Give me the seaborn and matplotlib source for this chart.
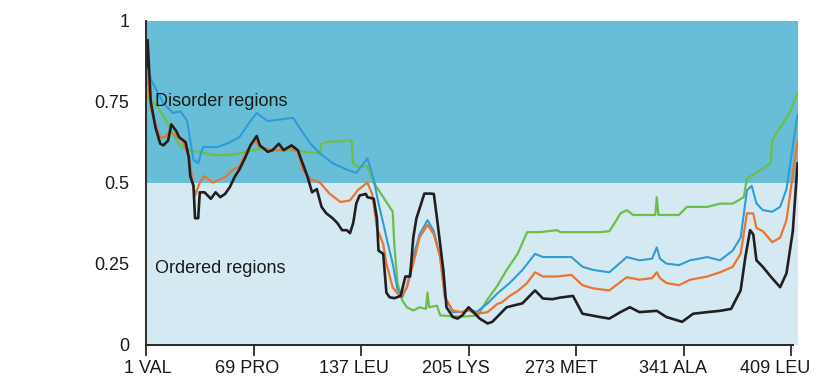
import numpy as np
import pandas as pd
import matplotlib
matplotlib.use("Agg")
import matplotlib.pyplot as plt
import matplotlib.transforms as mtransforms
import seaborn as sns

# ---- data -------------------------------------------------------------
tick_pos = [1, 69, 137, 205, 273, 341, 409]
tick_labels = ["1 VAL", "69 PRO", "137 LEU", "205 LYS", "273 MET", "341 ALA", "409 LEU"]
ytick_pos = [0, 0.25, 0.5, 0.75, 1]
ytick_labels = ["0", "0.25", "0.5", "0.75", "1"]

black_res = [1, 2, 4, 7, 10, 12, 15, 17, 20, 22, 26, 28, 29, 31, 32, 34, 35, 38, 42, 45,
             48, 51, 54, 57, 60, 64, 67, 71, 73, 78, 81, 85, 88, 93, 97, 100, 103, 106, 109, 112,
             115, 119, 122, 125, 128, 130, 132, 134, 136, 140, 141, 145, 147, 148, 151, 153, 155, 158, 162, 165,
             168, 170, 172, 174, 177, 181, 183, 185, 187, 189, 191, 195, 198, 201, 205, 208, 212, 217, 220, 225,
             229, 233, 239, 247, 252, 258, 263, 271, 277, 288, 294, 301, 307, 313, 324, 330, 340, 347, 356, 364,
             371, 377, 380, 383, 385, 387, 391, 396, 402, 406, 410, 413]
black_val = [0.85, 0.94, 0.75, 0.67, 0.62, 0.615, 0.63, 0.68, 0.66, 0.64, 0.625, 0.58, 0.52, 0.49, 0.39, 0.39, 0.47, 0.47, 0.45, 0.47,
             0.455, 0.465, 0.486, 0.517, 0.54, 0.58, 0.615, 0.644, 0.615, 0.595, 0.60, 0.62, 0.60, 0.615, 0.60, 0.56, 0.52, 0.47, 0.48, 0.425,
             0.405, 0.39, 0.375, 0.353, 0.353, 0.344, 0.375, 0.436, 0.46, 0.465, 0.455, 0.45, 0.39, 0.29, 0.28, 0.16, 0.146, 0.143, 0.15, 0.21,
             0.21, 0.33, 0.39, 0.42, 0.466, 0.466, 0.465, 0.39, 0.31, 0.23, 0.115, 0.085, 0.08, 0.09, 0.115, 0.10, 0.08, 0.065, 0.07, 0.095,
             0.115, 0.12, 0.127, 0.167, 0.142, 0.14, 0.145, 0.15, 0.095, 0.085, 0.08, 0.10, 0.115, 0.10, 0.104, 0.085, 0.07, 0.095, 0.10, 0.104,
             0.11, 0.167, 0.27, 0.353, 0.34, 0.26, 0.24, 0.21, 0.177, 0.22, 0.35, 0.56]

orange_res = [1, 2, 4, 7, 10, 13, 16, 21, 24, 28, 30, 32, 35, 38, 43, 48, 52, 56, 60, 65,
              70, 73, 81, 86, 92, 97, 100, 105, 111, 117, 124, 130, 135, 141, 144, 147, 151, 153, 157, 162,
              166, 170, 174, 179, 183, 187, 190, 195, 200, 205, 210, 217, 223, 226, 231, 236, 242, 247, 252, 261,
              270, 277, 284, 294, 305, 313, 321, 324, 326, 330, 338, 345, 356, 364, 372, 377, 381, 385, 387, 391,
              397, 402, 406, 413]
orange_val = [0.88, 0.82, 0.73, 0.68, 0.64, 0.64, 0.66, 0.64, 0.63, 0.58, 0.52, 0.46, 0.50, 0.52, 0.50, 0.51, 0.52, 0.54, 0.55, 0.60,
              0.63, 0.61, 0.60, 0.60, 0.61, 0.595, 0.54, 0.51, 0.50, 0.466, 0.44, 0.445, 0.477, 0.50, 0.465, 0.36, 0.31, 0.25, 0.176, 0.146,
              0.176, 0.25, 0.33, 0.37, 0.34, 0.27, 0.146, 0.105, 0.10, 0.105, 0.095, 0.10, 0.125, 0.13, 0.15, 0.165, 0.19, 0.223, 0.21, 0.21,
              0.215, 0.183, 0.173, 0.167, 0.208, 0.20, 0.205, 0.223, 0.205, 0.19, 0.183, 0.20, 0.21, 0.223, 0.24, 0.28, 0.405, 0.405, 0.36, 0.35,
              0.316, 0.33, 0.384, 0.63]

blue_res = [1, 5, 12, 18, 23, 27, 31, 34, 37, 46, 52, 60, 67, 71, 78, 86, 94, 98, 105, 111,
            119, 128, 134, 141, 145, 148, 151, 154, 155, 157, 160, 163, 166, 170, 174, 179, 183, 187, 190, 195,
            201, 205, 210, 217, 223, 231, 239, 247, 252, 261, 270, 277, 284, 294, 305, 313, 321, 324, 326, 330,
            338, 345, 356, 364, 372, 377, 381, 384, 387, 391, 397, 402, 406, 413]
blue_val = [0.86, 0.81, 0.745, 0.715, 0.72, 0.69, 0.57, 0.56, 0.61, 0.61, 0.62, 0.64, 0.69, 0.715, 0.69, 0.695, 0.70, 0.67, 0.62, 0.59,
            0.56, 0.54, 0.53, 0.575, 0.51, 0.436, 0.375, 0.31, 0.29, 0.25, 0.17, 0.146, 0.18, 0.27, 0.34, 0.384, 0.35, 0.27, 0.146, 0.10,
            0.10, 0.11, 0.10, 0.127, 0.157, 0.19, 0.23, 0.28, 0.27, 0.27, 0.27, 0.24, 0.23, 0.223, 0.27, 0.26, 0.265, 0.30, 0.265, 0.25,
            0.245, 0.26, 0.27, 0.26, 0.29, 0.33, 0.476, 0.49, 0.436, 0.415, 0.41, 0.425, 0.48, 0.71]

green_res = [1, 8, 14, 18, 23, 29, 35, 43, 52, 60, 65, 73, 81, 90, 98, 111, 112, 115, 131, 132,
             134, 141, 145, 149, 153, 157, 158, 160, 163, 166, 170, 174, 178, 179, 180, 185, 187, 195, 204, 211,
             217, 223, 229, 236, 242, 250, 261, 263, 288, 294, 298, 301, 305, 309, 323, 324, 325, 338, 343, 356,
             364, 372, 379, 381, 387, 396, 397, 402, 408, 413]
green_val = [0.77, 0.735, 0.69, 0.65, 0.61, 0.60, 0.595, 0.585, 0.585, 0.59, 0.595, 0.605, 0.60, 0.60, 0.597, 0.59, 0.62, 0.625, 0.63, 0.56,
             0.55, 0.55, 0.50, 0.47, 0.44, 0.41, 0.31, 0.19, 0.136, 0.115, 0.105, 0.115, 0.11, 0.16, 0.115, 0.12, 0.09, 0.087, 0.087, 0.09,
             0.14, 0.18, 0.23, 0.28, 0.347, 0.347, 0.353, 0.347, 0.347, 0.35, 0.38, 0.405, 0.415, 0.40, 0.40, 0.455, 0.40, 0.40, 0.425, 0.425,
             0.435, 0.435, 0.455, 0.513, 0.53, 0.56, 0.63, 0.67, 0.715, 0.777]

# ---- style ------------------------------------------------------------
sns.set_theme(style="white")
plt.rcParams["font.family"] = ["Liberation Sans", "DejaVu Sans"]

fig = plt.figure(figsize=(8.18, 3.81), dpi=100)
ax = fig.add_axes([0.1785, 0.0958, 0.975 - 0.1785, 0.9457 - 0.0958])

ax.axhspan(0.5, 1.0, color="#67BED6", lw=0, zorder=0)
ax.axhspan(0.0, 0.5, color="#D5E9F3", lw=0, zorder=0)

series = [
    (green_res, green_val, "#6CBF47", 1.6),
    (blue_res, blue_val, "#2F9BD9", 1.5),
    (orange_res, orange_val, "#EA7530", 1.6),
    (black_res, black_val, "#231F20", 1.9),
]
for res, val, col, lw in series:
    df = pd.DataFrame({"res": res, "val": val})
    sns.lineplot(data=df, x="res", y="val", ax=ax, color=col, lw=lw,
                 estimator=None, sort=False, zorder=3)

ax.set_xlim(1, 413)
ax.set_ylim(0, 1)
ax.set_xticks(tick_pos, tick_labels)
ax.set_yticks(ytick_pos, ytick_labels)
ax.set_xlabel("")
ax.set_ylabel("")

for s in ["top", "right"]:
    ax.spines[s].set_visible(False)
for s in ["left", "bottom"]:
    ax.spines[s].set_color("#2b2b2b")
    ax.spines[s].set_linewidth(1.4)
    ax.spines[s].set_zorder(5)
ax.spines["bottom"].set_bounds(1, 410)

ax.tick_params(axis="x", length=8, width=1.2, direction="out", pad=3,
               labelsize=13, colors="#1a1a1a", bottom=True)
ax.tick_params(axis="y", length=0, pad=12, labelsize=13, colors="#1a1a1a", left=False)

# in the reference the x labels sit slightly left of their ticks
label_shift_px = [1.5, -6, -7.5, -12.5, -15, -10.5, -16]
for lab, dx in zip(ax.get_xticklabels(), label_shift_px):
    lab.set_transform(lab.get_transform() +
                      mtransforms.ScaledTranslation(dx / 100, 0, fig.dpi_scale_trans))

ax.text(6.7, 0.737, "Disorder regions", fontsize=13, color="#1a1a1a",
        ha="left", va="baseline", zorder=6)
ax.text(6.7, 0.221, "Ordered regions", fontsize=13, color="#1a1a1a",
        ha="left", va="baseline", zorder=6)

fig.savefig("out.png", dpi=100, facecolor="white")
